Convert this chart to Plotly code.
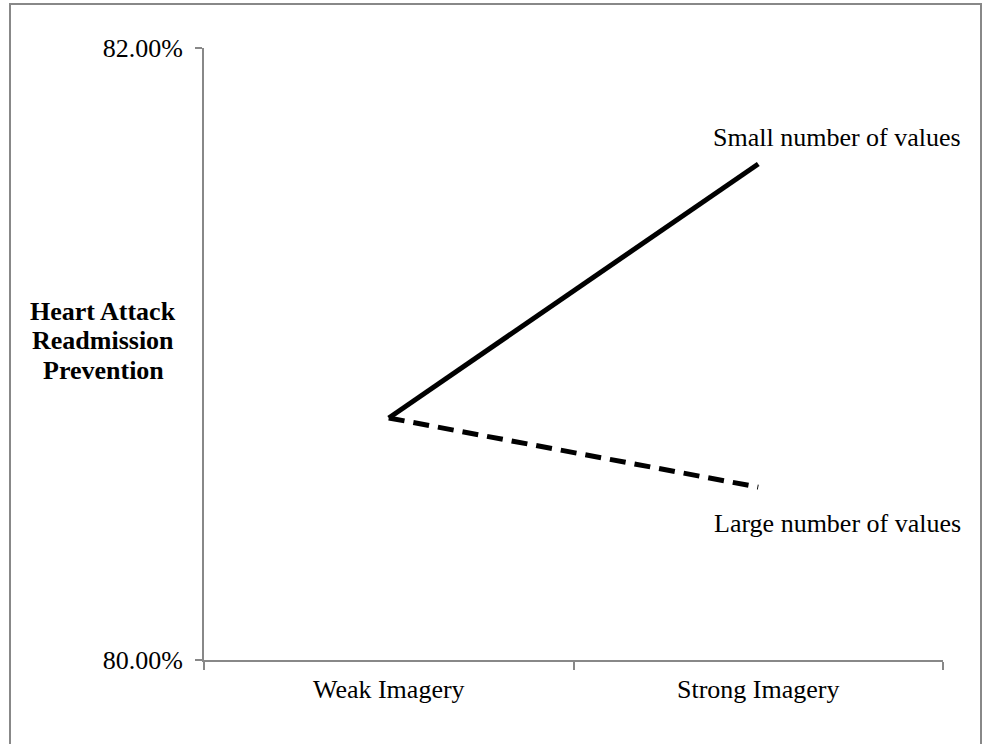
import plotly.graph_objects as go

categories = ["Weak Imagery", "Strong Imagery"]
small_values = [0.80791, 0.81621]
large_values = [0.80791, 0.80565]
y_ticks = [0.80, 0.82]
series_labels = ["Small number of values", "Large number of values"]
y_title_lines = ["Heart Attack", "Readmission", "Prevention"]

W, H = 983, 744
L, R, T, B = 204, 40, 48, 84
pw, ph = W - L - R, H - T - B

def px_x(x):
    return (x - L) / pw

def px_y(y):
    return (H - B - y) / ph

font = "Liberation Serif, Times New Roman, serif"
FS = 26

fig = go.Figure()
fig.add_trace(go.Scatter(x=categories, y=small_values, mode="lines",
                         line=dict(color="black", width=5), showlegend=False))
fig.add_trace(go.Scatter(x=categories, y=large_values, mode="lines",
                         line=dict(color="black", width=5, dash="16px,9px"), showlegend=False))

annotations = []
for i, line in enumerate(y_title_lines):
    annotations.append(dict(text="<b>" + line + "</b>", xref="paper", yref="paper",
                            x=px_x(103), y=px_y(311 + 29.5 * i), xanchor="center", yanchor="middle",
                            showarrow=False, font=dict(family=font, size=FS)))
annotations.append(dict(text=series_labels[0], xref="paper", yref="paper",
                        x=px_x(837), y=px_y(137), xanchor="center", yanchor="middle",
                        showarrow=False, font=dict(family=font, size=FS)))
annotations.append(dict(text=series_labels[1], xref="paper", yref="paper",
                        x=px_x(837), y=px_y(523), xanchor="center", yanchor="middle",
                        showarrow=False, font=dict(family=font, size=FS)))

fig.update_layout(
    width=W, height=H,
    margin=dict(l=L, r=R, t=T, b=B),
    paper_bgcolor="white", plot_bgcolor="white",
    font=dict(family=font, size=FS, color="black"),
    xaxis=dict(type="category", range=[-0.5, 1.5], showgrid=False,
               showline=True, linecolor="#888888", linewidth=2,
               ticks="outside", tickson="boundaries", ticklen=8,
               tickcolor="#888888", tickwidth=2, ticklabelstandoff=5,
               tickfont=dict(family=font, size=FS), zeroline=False),
    yaxis=dict(range=[0.80, 0.82], tickvals=y_ticks, tickformat=".2%",
               showgrid=False, showline=True, linecolor="#888888", linewidth=2,
               ticks="outside", ticklen=7, tickcolor="#888888", tickwidth=2,
               ticklabelstandoff=7,
               tickfont=dict(family=font, size=FS), zeroline=False),
    shapes=[dict(type="rect", xref="paper", yref="paper",
                 x0=px_x(10), x1=px_x(981), y0=px_y(770), y1=px_y(4),
                 line=dict(color="#888888", width=2))],
    annotations=annotations,
)

fig.write_html("out.html", config={"displayModeBar": False},
               post_script="document.body.style.margin='0';document.body.style.overflow='hidden';")
